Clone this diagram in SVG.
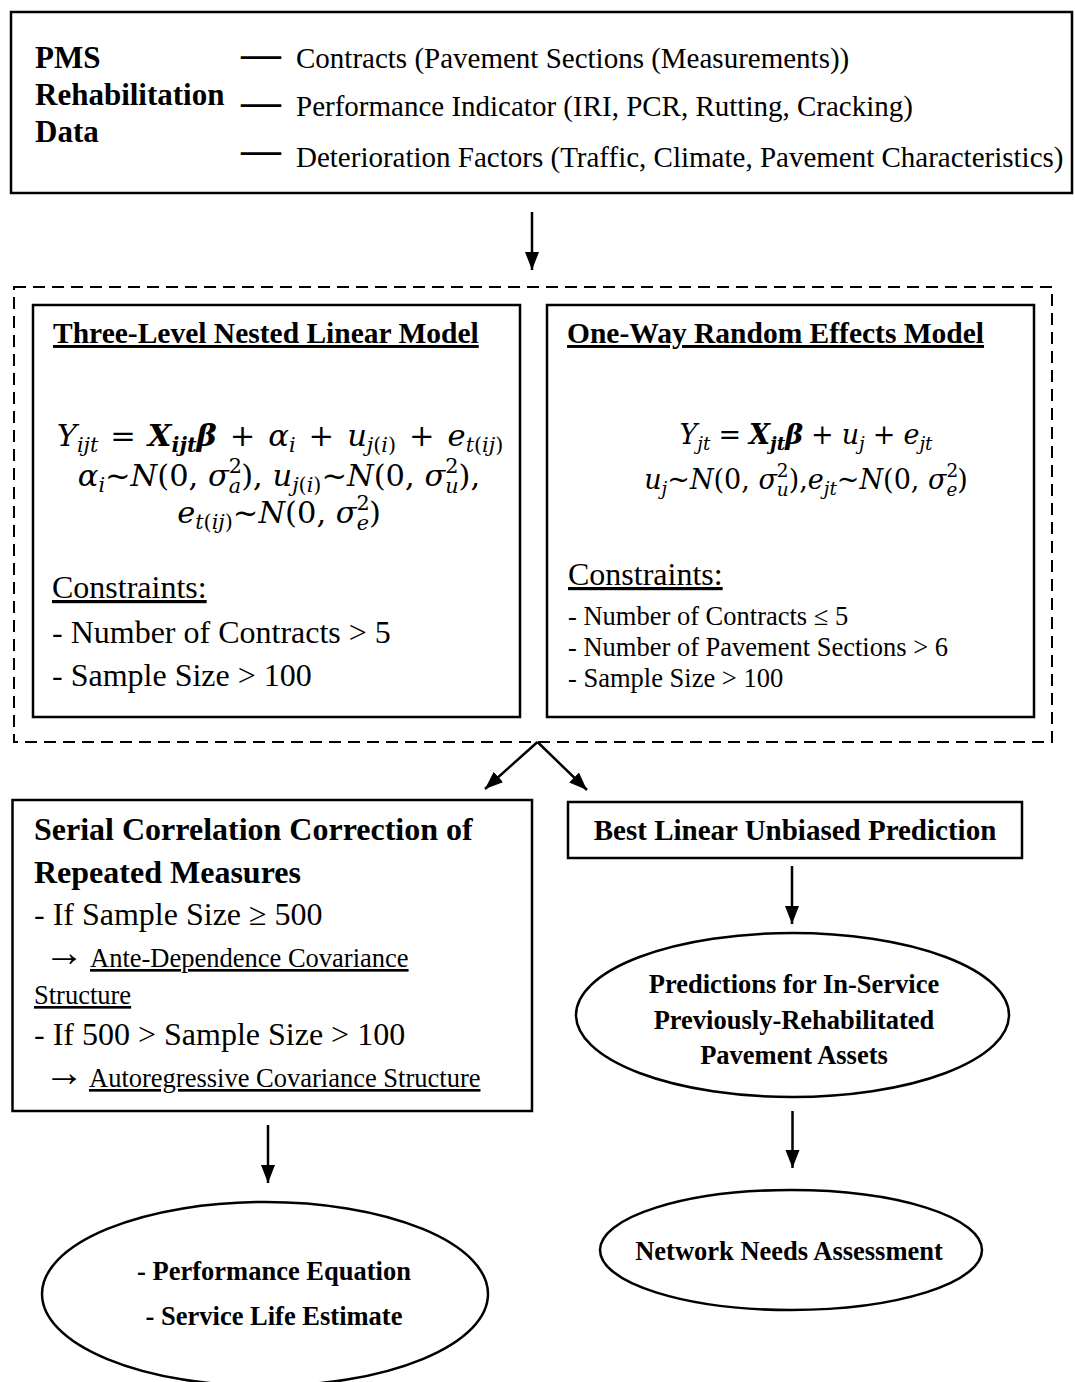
<svg xmlns="http://www.w3.org/2000/svg" width="1075" height="1382" viewBox="0 0 1075 1382">
<style>
.bx{fill:none;stroke:#000;stroke-width:2.5}
.dash{fill:none;stroke:#000;stroke-width:2;stroke-dasharray:12 7}
.t{font-family:"Liberation Serif","Times New Roman",serif;fill:#000}
.b{font-weight:bold}
.u{text-decoration:underline}
.m{font-family:"DejaVu Serif",serif;font-style:italic;fill:#000}
.ml{font-size:30.5px}
.mr{font-size:27px}
.n{font-style:normal}
.s{font-size:0.68em}
.c{stroke:#000;stroke-width:2.5;fill:none;marker-end:url(#ah)}
</style>
<defs>
<marker id="ah" markerUnits="userSpaceOnUse" markerWidth="18" markerHeight="16" refX="18" refY="8" orient="auto" viewBox="0 0 18 16">
<path d="M0,1 L18,8 L0,15 z" fill="#000"/>
</marker>
</defs>
<rect width="1075" height="1382" fill="#fff"/>

<g id="pms-data">
<rect class="bx" x="11" y="12" width="1061" height="181"/>
<text class="t b" font-size="31" x="35" y="68">PMS</text>
<text class="t b" font-size="31" x="35" y="105">Rehabilitation</text>
<text class="t b" font-size="31" x="35" y="142">Data</text>
<text class="t b" font-size="40" x="241" y="67">—</text>
<text class="t b" font-size="40" x="241" y="115">—</text>
<text class="t b" font-size="40" x="241" y="163">—</text>
<text class="t" font-size="29" x="296" y="68">Contracts (Pavement Sections (Measurements))</text>
<text class="t" font-size="29" x="296" y="116">Performance Indicator (IRI, PCR, Rutting, Cracking)</text>
<text class="t" font-size="29" x="296" y="167">Deterioration Factors (Traffic, Climate, Pavement Characteristics)</text>
</g>

<g id="models-group">
<rect class="dash" x="14" y="287" width="1038" height="455"/>
</g>

<g id="three-level-model">
<rect class="bx" x="33" y="305" width="487" height="412"/>
<text class="t b u" font-size="29.5" x="53" y="343">Three-Level Nested Linear Model</text>
<text class="m ml" x="280" y="446" text-anchor="middle">Y<tspan class="s" dy="6">ijt</tspan><tspan class="n" dy="-6" dx="12">=</tspan><tspan dx="12" font-weight="bold">X</tspan><tspan class="s" font-weight="bold" dy="6">ijt</tspan><tspan font-weight="bold" dy="-6">β</tspan><tspan class="n" dx="13">+</tspan><tspan dx="13">α</tspan><tspan class="s" dy="6">i</tspan><tspan class="n" dy="-6" dx="13">+</tspan><tspan dx="13">u</tspan><tspan class="s" dy="6">j</tspan><tspan class="s n">(</tspan><tspan class="s">i</tspan><tspan class="s n">)</tspan><tspan class="n" dy="-6" dx="13">+</tspan><tspan dx="13">e</tspan><tspan class="s" dy="6">t</tspan><tspan class="s n">(</tspan><tspan class="s">ij</tspan><tspan class="s n">)</tspan></text>
<text class="m ml" x="279" y="486" text-anchor="middle">α<tspan class="s" dy="6">i</tspan><tspan class="n" dy="-6">~</tspan>N<tspan class="n">(0, </tspan>σ<tspan class="s n" dy="-13">2</tspan><tspan class="s" dx="-13.2" dy="20">a</tspan><tspan class="n" dy="-7">), </tspan>u<tspan class="s" dy="6">j</tspan><tspan class="s n">(</tspan><tspan class="s">i</tspan><tspan class="s n">)</tspan><tspan class="n" dy="-6">~</tspan>N<tspan class="n">(0, </tspan>σ<tspan class="s n" dy="-13">2</tspan><tspan class="s" dx="-13.2" dy="20">u</tspan><tspan class="n" dy="-7">),</tspan></text>
<text class="m ml" x="279" y="523" text-anchor="middle">e<tspan class="s" dy="6">t</tspan><tspan class="s n">(</tspan><tspan class="s">ij</tspan><tspan class="s n">)</tspan><tspan class="n" dy="-6">~</tspan>N<tspan class="n">(0, </tspan>σ<tspan class="s n" dy="-13">2</tspan><tspan class="s" dx="-13.2" dy="20">e</tspan><tspan class="n" dy="-7">)</tspan></text>
<text class="t u" font-size="32" x="52" y="598">Constraints:</text>
<text class="t" font-size="32" x="52" y="643">- Number of Contracts &gt; 5</text>
<text class="t" font-size="32" x="52" y="686">- Sample Size &gt; 100</text>
</g>

<g id="one-way-model">
<rect class="bx" x="547" y="305" width="487" height="412"/>
<text class="t b u" font-size="29.5" x="567" y="343">One-Way Random Effects Model</text>
<text class="m mr" x="806" y="444" text-anchor="middle">Y<tspan class="s" dy="6">jt</tspan><tspan class="n" dy="-6" dx="8">=</tspan><tspan dx="8" font-weight="bold">X</tspan><tspan class="s" font-weight="bold" dy="6">jt</tspan><tspan font-weight="bold" dy="-6">β</tspan><tspan class="n" dx="8">+</tspan><tspan dx="8">u</tspan><tspan class="s" dy="6">j</tspan><tspan class="n" dy="-6" dx="8">+</tspan><tspan dx="8">e</tspan><tspan class="s" dy="6">jt</tspan></text>
<text class="m mr" x="806" y="489" text-anchor="middle">u<tspan class="s" dy="6">j</tspan><tspan class="n" dy="-6">~</tspan>N<tspan class="n">(0, </tspan>σ<tspan class="s n" dy="-12">2</tspan><tspan class="s" dx="-11.7" dy="19">u</tspan><tspan class="n" dy="-7">),</tspan>e<tspan class="s" dy="6">jt</tspan><tspan class="n" dy="-6">~</tspan>N<tspan class="n">(0, </tspan>σ<tspan class="s n" dy="-12">2</tspan><tspan class="s" dx="-11.7" dy="19">e</tspan><tspan class="n" dy="-7">)</tspan></text>
<text class="t u" font-size="32" x="568" y="585">Constraints:</text>
<text class="t" font-size="26.5" x="568" y="625">- Number of Contracts ≤ 5</text>
<text class="t" font-size="26.5" x="568" y="656">- Number of Pavement Sections &gt; 6</text>
<text class="t" font-size="26.5" x="568" y="687">- Sample Size &gt; 100</text>
</g>

<g id="serial-correlation">
<rect class="bx" x="12.5" y="800" width="519.5" height="311"/>
<text class="t b" font-size="32" x="34" y="840">Serial Correlation Correction of</text>
<text class="t b" font-size="32" x="34" y="883">Repeated Measures</text>
<text class="t" font-size="32" x="34" y="925">- If Sample Size ≥ 500</text>
<text class="t" font-size="40" x="44" y="966">→</text>
<text class="t u" font-size="26.5" x="90" y="967">Ante-Dependence Covariance</text>
<text class="t u" font-size="26.5" x="34" y="1004">Structure</text>
<text class="t" font-size="32" x="34" y="1045">- If 500 &gt; Sample Size &gt; 100</text>
<text class="t" font-size="40" x="44" y="1086">→</text>
<text class="t u" font-size="26.5" x="89" y="1087">Autoregressive Covariance Structure</text>
</g>

<g id="blup">
<rect class="bx" x="568" y="802" width="454" height="56"/>
<text class="t b" font-size="29" x="795" y="840" text-anchor="middle">Best Linear Unbiased Prediction</text>
</g>

<g id="predictions">
<ellipse class="bx" cx="792.5" cy="1015" rx="216.5" ry="82"/>
<text class="t b" font-size="26.5" x="794" y="993" text-anchor="middle">Predictions for In-Service</text>
<text class="t b" font-size="26.5" x="794" y="1029" text-anchor="middle">Previously-Rehabilitated</text>
<text class="t b" font-size="26.5" x="794" y="1064" text-anchor="middle">Pavement Assets</text>
</g>

<g id="network-needs">
<ellipse class="bx" cx="791" cy="1250" rx="191" ry="60"/>
<text class="t b" font-size="26.5" x="789" y="1260" text-anchor="middle">Network Needs Assessment</text>
</g>

<g id="performance">
<ellipse class="bx" cx="265" cy="1294" rx="223" ry="92"/>
<text class="t b" font-size="26.5" x="274" y="1280" text-anchor="middle">- Performance Equation</text>
<text class="t b" font-size="26.5" x="274" y="1325" text-anchor="middle">- Service Life Estimate</text>
</g>

<g id="connectors">
<line class="c" x1="532" y1="212" x2="532" y2="270"/>
<line class="c" x1="537.5" y1="742" x2="485" y2="789"/>
<line class="c" x1="537.5" y1="742" x2="587" y2="790"/>
<line class="c" x1="792" y1="866" x2="792" y2="924"/>
<line class="c" x1="792.5" y1="1111" x2="792.5" y2="1168"/>
<line class="c" x1="268" y1="1125" x2="268" y2="1183"/>
</g>
</svg>
